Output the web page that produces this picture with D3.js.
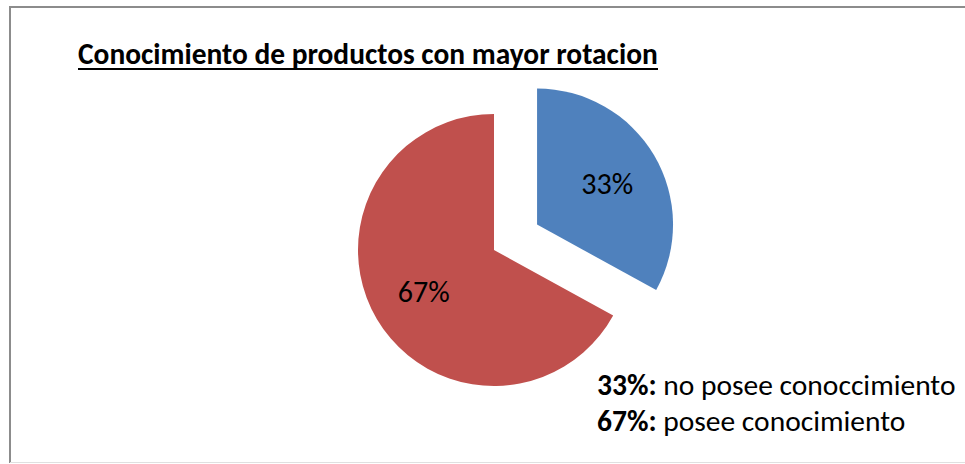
<!DOCTYPE html>
<html>
<head>
<meta charset="utf-8">
<script src="https://cdn.jsdelivr.net/npm/d3@7"></script>
<style>
  body { margin: 0; background: #fff; }
  svg { display: block; }
</style>
</head>
<body>
<div id="chart"></div>
<script>
// datos del grafico
const categories = ['no posee conoccimiento', 'posee conocimiento']
const values = [33, 67]
const colors = ['#4F81BD', '#C0504D']
const title = 'Conocimiento de productos con mayor rotacion'

const width = 965
const height = 464
const font = 'Carlito, Calibri, "Open Sans", sans-serif'

const svg = d3.select('#chart')
  .append('svg')
  .attr('width', width)
  .attr('height', height)

// marco
svg.append('line').attr('x1', 9).attr('y1', 7).attr('x2', width).attr('y2', 7)
  .attr('stroke', '#8c8c8c').attr('stroke-width', 2)
svg.append('line').attr('x1', 10).attr('y1', 7).attr('x2', 10).attr('y2', 463)
  .attr('stroke', '#8c8c8c').attr('stroke-width', 2)
svg.append('line').attr('x1', 10).attr('y1', 462.5).attr('x2', width).attr('y2', 462.5)
  .attr('stroke', '#e0e0e0').attr('stroke-width', 1)

// titulo: ajustar el tamaño para que ocupe 580px
const titleText = svg.append('text')
  .attr('x', 78)
  .attr('y', 64)
  .attr('font-family', font)
  .attr('font-weight', 'bold')
  .attr('font-size', 26)
  .attr('fill', '#000')
  .text(title)
const w0 = titleText.node().getComputedTextLength()
titleText.attr('font-size', 26 * 580 / w0)
svg.append('line')
  .attr('x1', 78).attr('x2', 658)
  .attr('y1', 69).attr('y2', 69)
  .attr('stroke', '#000').attr('stroke-width', 2)

// pastel
const radius = 136
const explode = 50
const cx = 494
const cy = 250

const pie = d3.pie().sort(null).value(d => d)
const arcs = pie(values)
const arc = d3.arc().innerRadius(0).outerRadius(radius)
const labelArc = d3.arc().innerRadius(radius * 0.6).outerRadius(radius * 0.6)

const g = svg.append('g').attr('transform', `translate(${cx}, ${cy})`)

const slices = g.selectAll('.slice')
  .data(arcs)
  .enter()
  .append('g')
  .attr('class', 'slice')
  .attr('transform', (d, i) => {
    if (i !== 0) return null
    const a = (d.startAngle + d.endAngle) / 2
    return `translate(${explode * Math.sin(a)}, ${-explode * Math.cos(a)})`
  })

slices.append('path')
  .attr('d', arc)
  .attr('fill', (d, i) => colors[i])

slices.append('text')
  .attr('transform', d => {
    const [x, y] = labelArc.centroid(d)
    return `translate(${x}, ${y})`
  })
  .attr('text-anchor', 'middle')
  .attr('dy', '0.35em')
  .attr('font-family', font)
  .attr('font-size', 30)
  .attr('fill', '#000')
  .text(d => `${d.value}%`)

// leyenda de texto
const legend = svg.append('g')
legend.selectAll('text')
  .data(values)
  .enter()
  .append('text')
  .attr('x', 597)
  .attr('y', (d, i) => 395 + i * 36)
  .attr('font-family', font)
  .attr('font-size', 29.5)
  .attr('fill', '#000')
  .each(function (d, i) {
    const t = d3.select(this)
    t.append('tspan').attr('font-weight', 'bold').text(`${d}%:`)
    t.append('tspan').text(` ${categories[i]}`)
  })
</script>
</body>
</html>
